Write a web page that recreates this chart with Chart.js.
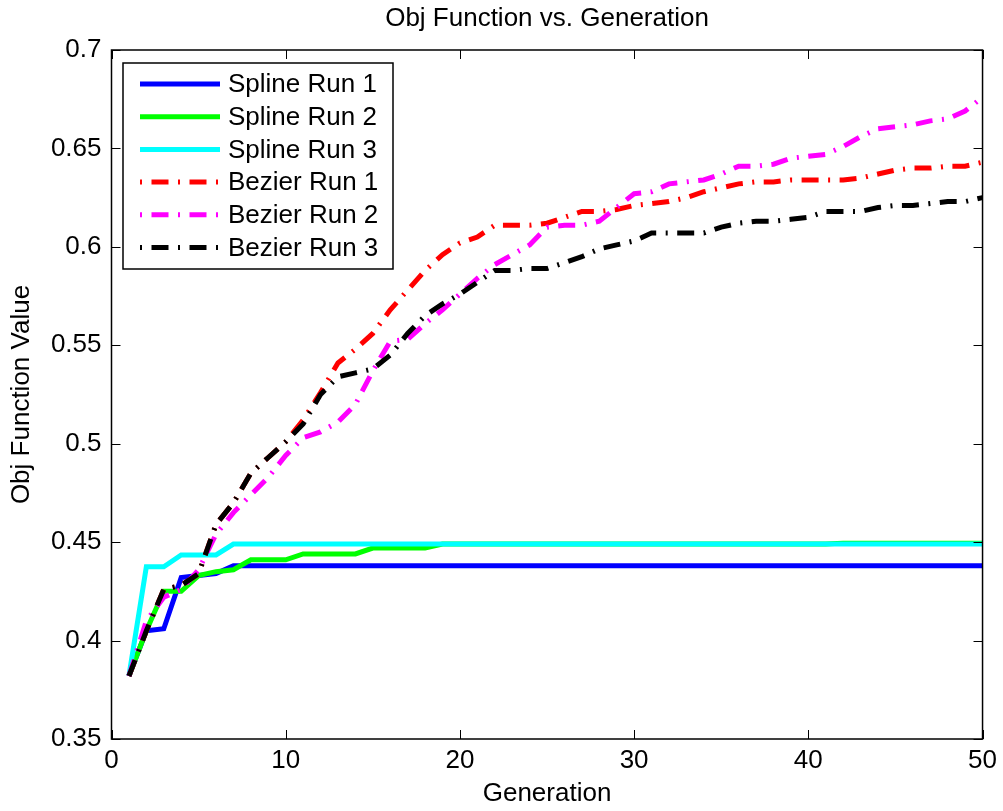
<!DOCTYPE html>
<html>
<head>
<meta charset="utf-8">
<script src="https://cdn.jsdelivr.net/npm/chart.js@4.4.1/dist/chart.umd.min.js"></script>
<style>
  body { margin: 0; background: #fff; }
  #wrap { position: relative; width: 1003px; height: 811px; }
</style>
</head>
<body>
<div id="wrap"><canvas id="chart"></canvas></div>
<script>
// generations (x axis)
const generations = [
  1, 2, 3, 4, 5, 6, 7, 8, 9, 10,
  11, 12, 13, 14, 15, 16, 17, 18, 19, 20,
  21, 22, 23, 24, 25, 26, 27, 28, 29, 30,
  31, 32, 33, 34, 35, 36, 37, 38, 39, 40,
  41, 42, 43, 44, 45, 46, 47, 48, 49, 50
];

const splineRun1 = [
  0.382, 0.405, 0.406, 0.432, 0.433, 0.434, 0.438, 0.438, 0.438, 0.438,
  0.438, 0.438, 0.438, 0.438, 0.438, 0.438, 0.438, 0.438, 0.438, 0.438,
  0.438, 0.438, 0.438, 0.438, 0.438, 0.438, 0.438, 0.438, 0.438, 0.438,
  0.438, 0.438, 0.438, 0.438, 0.438, 0.438, 0.438, 0.438, 0.438, 0.438,
  0.438, 0.438, 0.438, 0.438, 0.438, 0.438, 0.438, 0.438, 0.438, 0.438
];
const splineRun2 = [
  0.382, 0.405, 0.425, 0.425, 0.433, 0.435, 0.436, 0.441, 0.441, 0.441,
  0.444, 0.444, 0.444, 0.444, 0.447, 0.447, 0.447, 0.447, 0.449, 0.449,
  0.449, 0.449, 0.449, 0.449, 0.449, 0.449, 0.449, 0.449, 0.449, 0.449,
  0.449, 0.449, 0.449, 0.449, 0.449, 0.449, 0.449, 0.449, 0.449, 0.449,
  0.449, 0.4495, 0.4495, 0.4495, 0.4495, 0.4495, 0.4495, 0.4495, 0.4495, 0.4495
];
const splineRun3 = [
  0.382, 0.4375, 0.4375, 0.4435, 0.4435, 0.4435, 0.449, 0.449, 0.449, 0.449,
  0.449, 0.449, 0.449, 0.449, 0.449, 0.449, 0.449, 0.449, 0.449, 0.449,
  0.449, 0.449, 0.449, 0.449, 0.449, 0.449, 0.449, 0.449, 0.449, 0.449,
  0.449, 0.449, 0.449, 0.449, 0.449, 0.449, 0.449, 0.449, 0.449, 0.449,
  0.449, 0.449, 0.449, 0.449, 0.449, 0.449, 0.449, 0.449, 0.449, 0.449
];
const bezierRun1 = [
  0.382, 0.405, 0.426, 0.428, 0.434, 0.459, 0.470, 0.485, 0.493, 0.501,
  0.512, 0.526, 0.541, 0.548, 0.556, 0.568, 0.578, 0.588, 0.596, 0.602,
  0.605, 0.611, 0.611, 0.611, 0.612, 0.615, 0.618, 0.618, 0.619, 0.621,
  0.622, 0.623, 0.625, 0.628, 0.630, 0.632, 0.633, 0.633, 0.634, 0.634,
  0.634, 0.634, 0.635, 0.637, 0.639, 0.640, 0.640, 0.641, 0.641, 0.643
];
const bezierRun2 = [
  0.382, 0.410, 0.422, 0.426, 0.436, 0.454, 0.465, 0.474, 0.483, 0.494,
  0.503, 0.506, 0.511, 0.520, 0.537, 0.552, 0.553, 0.561, 0.568, 0.576,
  0.584, 0.591, 0.596, 0.601, 0.610, 0.611, 0.611, 0.613, 0.620, 0.627,
  0.628, 0.632, 0.633, 0.634, 0.637, 0.641, 0.641, 0.642, 0.645, 0.646,
  0.647, 0.651, 0.656, 0.660, 0.661, 0.662, 0.664, 0.665, 0.669, 0.676
];
const bezierRun3 = [
  0.382, 0.405, 0.426, 0.428, 0.434, 0.459, 0.470, 0.485, 0.493, 0.501,
  0.510, 0.525, 0.534, 0.536, 0.538, 0.545, 0.556, 0.565, 0.571, 0.576,
  0.582, 0.588, 0.588, 0.589, 0.589, 0.592, 0.595, 0.599, 0.601, 0.603,
  0.607, 0.607, 0.607, 0.607, 0.610, 0.612, 0.613, 0.613, 0.614, 0.615,
  0.618, 0.618, 0.618, 0.620, 0.621, 0.621, 0.622, 0.623, 0.623, 0.625
];

const seriesNames = ["Spline Run 1", "Spline Run 2", "Spline Run 3", "Bezier Run 1", "Bezier Run 2", "Bezier Run 3"];
const seriesValues = [splineRun1, splineRun2, splineRun3, bezierRun1, bezierRun2, bezierRun3];
const seriesColors = ["#0000ff", "#00ff00", "#00ffff", "#ff0000", "#ff00ff", "#000000"];
const seriesDashed = [false, false, false, true, true, true];

const xTicks = [0, 10, 20, 30, 40, 50];
const yTicks = [0.35, 0.4, 0.45, 0.5, 0.55, 0.6, 0.65, 0.7];

const chartTitle = "Obj Function vs. Generation";
const xTitle = "Generation";
const yTitle = "Obj Function Value";

const FONT = "'Liberation Sans', Arial, sans-serif";
const dashDot = [17, 9.5, 2, 9.5];

Chart.defaults.font.family = FONT;
Chart.defaults.color = "#000";

const datasets = seriesNames.map((name, i) => ({
  label: name,
  data: generations.map((g, j) => ({ x: g, y: seriesValues[i][j] })),
  borderColor: seriesColors[i],
  backgroundColor: seriesColors[i],
  borderWidth: 5,
  borderDash: seriesDashed[i] ? dashDot : [],
  borderCapStyle: "butt",
  pointRadius: 0,
  tension: 0,
  fill: false,
  order: seriesNames.length - i, // later runs on top, like matlab
}));

// box, inward ticks, title and legend (matlab style)
const matlabFrame = {
  id: "matlabFrame",
  afterDatasetsDraw(chart) {
    const { ctx, chartArea: a, scales } = chart;
    const x = scales.x, y = scales.y;
    ctx.save();
    ctx.strokeStyle = "#000";
    ctx.lineWidth = 1;
    ctx.setLineDash([]);
    const tl = 9;
    xTicks.forEach(v => {
      const px = Math.round(x.getPixelForValue(v)) + 0.5;
      ctx.beginPath();
      ctx.moveTo(px, a.bottom); ctx.lineTo(px, a.bottom - tl);
      ctx.moveTo(px, a.top); ctx.lineTo(px, a.top + tl);
      ctx.stroke();
    });
    yTicks.forEach(v => {
      const py = Math.round(y.getPixelForValue(v)) + 0.5;
      ctx.beginPath();
      ctx.moveTo(a.left, py); ctx.lineTo(a.left + tl, py);
      ctx.moveTo(a.right, py); ctx.lineTo(a.right - tl, py);
      ctx.stroke();
    });
    ctx.lineWidth = 1.5;
    ctx.strokeRect(a.left, a.top, a.right - a.left, a.bottom - a.top);

    // title
    ctx.fillStyle = "#000";
    ctx.font = "26px " + FONT;
    ctx.textAlign = "center";
    ctx.textBaseline = "middle";
    ctx.fillText(chartTitle, (a.left + a.right) / 2, 19);

    // legend
    const lx = 123, ly = 63, lw = 270, lh = 206;
    ctx.fillStyle = "#fff";
    ctx.fillRect(lx, ly, lw, lh);
    ctx.lineWidth = 1.5;
    ctx.strokeRect(lx, ly, lw, lh);
    chart.data.datasets.forEach((ds, i) => {
      const ry = 84 + i * 32.7;
      ctx.beginPath();
      ctx.strokeStyle = ds.borderColor;
      ctx.lineWidth = 5;
      ctx.lineCap = "butt";
      ctx.setLineDash(ds.borderDash);
      ctx.lineDashOffset = 26.5;
      ctx.moveTo(140, ry); ctx.lineTo(220, ry);
      ctx.stroke();
      ctx.setLineDash([]);
      ctx.fillStyle = "#000";
      ctx.textAlign = "left";
      ctx.fillText(ds.label, 228, ry + 1);
    });
    ctx.restore();
  }
};

new Chart(document.getElementById("chart"), {
  type: "line",
  data: { datasets },
  options: {
    responsive: true,
    maintainAspectRatio: false,
    animation: false,
    layout: { padding: { top: 50, right: 20, bottom: 0, left: 0 } },
    plugins: {
      legend: { display: false },
      title: { display: false },
      tooltip: { enabled: false },
    },
    scales: {
      x: {
        type: "linear",
        min: 0,
        max: 50,
        afterFit: s => { s.height = 72; },
        afterBuildTicks: s => { s.ticks = xTicks.map(v => ({ value: v })); },
        ticks: { font: { size: 26 }, padding: 6, maxRotation: 0 },
        grid: { display: false, drawTicks: false },
        border: { display: false },
        title: { display: true, text: xTitle, font: { size: 26 }, padding: { top: 0, bottom: 2 } },
      },
      y: {
        type: "linear",
        min: 0.35,
        max: 0.7,
        afterFit: s => { s.width = 111.5; },
        afterBuildTicks: s => { s.ticks = yTicks.map(v => ({ value: v })); },
        ticks: {
          font: { size: 26 },
          padding: 10,
          callback: v => String(+v.toFixed(2)),
        },
        grid: { display: false, drawTicks: false },
        border: { display: false },
        title: { display: true, text: yTitle, font: { size: 26 }, padding: { top: 6, bottom: 0 } },
      },
    },
  },
  plugins: [matlabFrame],
});
</script>
</body>
</html>
